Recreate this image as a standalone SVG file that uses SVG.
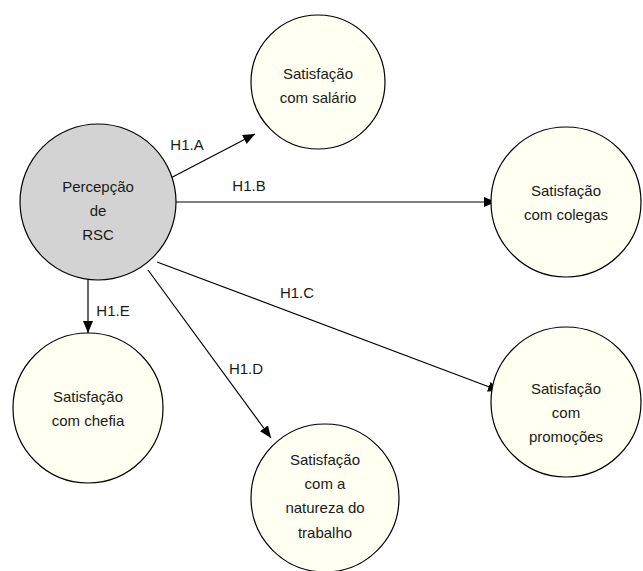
<svg xmlns="http://www.w3.org/2000/svg" width="643" height="571" viewBox="0 0 643 571">
<defs>
<style>
.n{fill:#fffff2;stroke:#000;stroke-width:1.2}
.g{fill:#d3d3d3;stroke:#000;stroke-width:1.2}
text{font-family:"Liberation Sans",Arial,sans-serif;font-size:15px;fill:#1a1a1a;text-anchor:middle}
.e{stroke:#000;stroke-width:1.2;fill:none;marker-end:url(#ah)}
</style>
<marker id="ah" viewBox="0 0 12 10" refX="12" refY="5" markerWidth="12" markerHeight="10" markerUnits="userSpaceOnUse" orient="auto">
<path d="M0,0 L12,5 L0,10 z" fill="#000"/>
</marker>
</defs>
<rect width="643" height="571" fill="#fff"/>
<g id="edges">
<line class="e" x1="163" y1="182" x2="255" y2="134"/>
<line class="e" x1="176" y1="202" x2="496" y2="202"/>
<line class="e" x1="157" y1="262" x2="500" y2="391"/>
<line class="e" x1="148" y1="270" x2="271" y2="438"/>
<line class="e" x1="88" y1="280" x2="88" y2="333"/>
<text x="187" y="150">H1.A</text>
<text x="249" y="191">H1.B</text>
<text x="297" y="298">H1.C</text>
<text x="246" y="374">H1.D</text>
<text x="113" y="316">H1.E</text>
</g>
<g id="rsc">
<circle class="g" cx="98" cy="202" r="78"/>
<text x="98" y="192">Percepção</text>
<text x="98" y="216">de</text>
<text x="98" y="240">RSC</text>
</g>
<g id="salario">
<circle class="n" cx="318" cy="82" r="67"/>
<text x="318" y="79">Satisfação</text>
<text x="318" y="103">com salário</text>
</g>
<g id="colegas">
<circle class="n" cx="566" cy="202" r="75"/>
<text x="566" y="196">Satisfação</text>
<text x="566" y="220">com colegas</text>
</g>
<g id="promocoes">
<circle class="n" cx="566" cy="402" r="75"/>
<text x="566" y="394">Satisfação</text>
<text x="566" y="418">com</text>
<text x="566" y="442">promoções</text>
</g>
<g id="chefia">
<circle class="n" cx="88" cy="408" r="75"/>
<text x="88" y="402">Satisfação</text>
<text x="88" y="426">com chefia</text>
</g>
<g id="natureza">
<circle class="n" cx="325" cy="498" r="74"/>
<text x="325" y="465">Satisfação</text>
<text x="325" y="489">com a</text>
<text x="325" y="513">natureza do</text>
<text x="325" y="538">trabalho</text>
</g>
</svg>
